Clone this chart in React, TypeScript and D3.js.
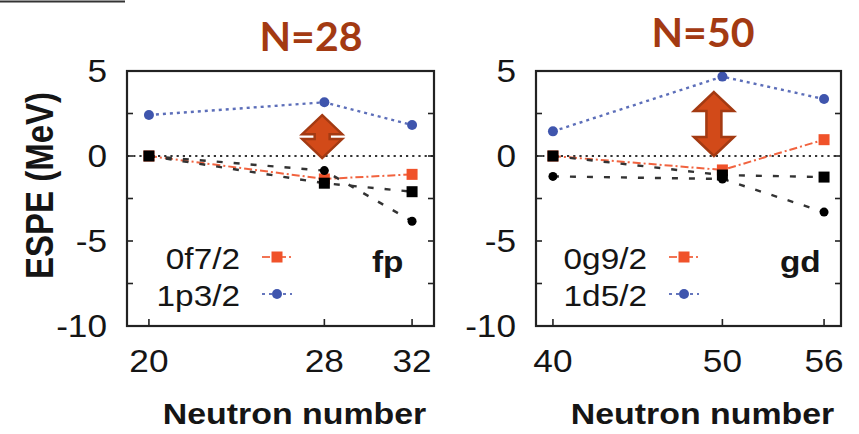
import React from "react";
import * as d3 from "d3";

// Effective single-particle energies (MeV) vs neutron number
const fpNeutrons = [20, 28, 32];
const fpF72 = [0, -1.35, -1.08];
const fpP32 = [2.41, 3.16, 1.82];
const fpBlackSquares = [0, -1.6, -2.1];
const fpBlackCircles = [0, -0.86, -3.84];

const gdNeutrons = [40, 50, 56];
const gdG92 = [0, -0.82, 0.96];
const gdD52 = [1.45, 4.67, 3.35];
const gdBlackSquares = [0, -1.12, -1.24];
const gdBlackCircles = [-1.2, -1.35, -3.3];

const yTicksMajor = [5, 0, -5, -10];
const yTicksMinor = [5, 2.5, 0, -2.5, -5, -7.5, -10];

const fpLegend = ["0f7/2", "1p3/2"];
const gdLegend = ["0g9/2", "1d5/2"];

const ORANGE = "#f0522a";
const BLUE = "#3f55ad";
const ARROW_FILL = "#d24a19";
const ARROW_EDGE = "#a33a12";
const TITLE = "#a33a12";
const INK = "#151515";
const SX = 1.13;

type PanelSpec = {
  ns: number[];
  domain: [number, number];
  range: [number, number];
  orange: number[];
  blue: number[];
  squares: number[];
  circles: number[];
  legend: string[];
  tag: string;
  title: string;
  titleX: number;
  titleY: number;
  arrow: { n: number; top: number; bottom: number; head: number };
  legendRight: number;
  tagX: number;
};

const panels: PanelSpec[] = [
  {
    ns: fpNeutrons,
    domain: [19, 33],
    range: [127, 434],
    orange: fpF72,
    blue: fpP32,
    squares: fpBlackSquares,
    circles: fpBlackCircles,
    legend: fpLegend,
    tag: "fp",
    title: "N=28",
    titleX: 311,
    titleY: 51,
    arrow: { n: 27.9, top: 2.4, bottom: -0.12, head: 19 },
    legendRight: 240,
    tagX: 372,
  },
  {
    ns: gdNeutrons,
    domain: [39, 57],
    range: [536, 841],
    orange: gdG92,
    blue: gdD52,
    squares: gdBlackSquares,
    circles: gdBlackCircles,
    legend: gdLegend,
    tag: "gd",
    title: "N=50",
    titleX: 703,
    titleY: 47,
    arrow: { n: 49.5, top: 3.76, bottom: 0, head: 19 },
    legendRight: 647,
    tagX: 780,
  },
];

const y = d3.scaleLinear().domain([-10, 5]).range([326, 71]);

function Txt(props: {
  x: number;
  y: number;
  size: number;
  anchor?: "start" | "middle" | "end";
  bold?: boolean;
  sx?: number;
  children: React.ReactNode;
}) {
  const { x, y: ty, size, anchor = "start", bold = false, sx = SX } = props;
  return (
    <text
      transform={`translate(${x},${ty}) scale(${sx},1)`}
      fontFamily="'Liberation Sans', Arial, sans-serif"
      fontSize={size}
      fontWeight={bold ? "bold" : "normal"}
      textAnchor={anchor}
      fill={INK}
    >
      {props.children}
    </text>
  );
}

function Square({ cx, cy, s, fill }: { cx: number; cy: number; s: number; fill: string }) {
  return <rect x={cx - s / 2} y={cy - s / 2} width={s} height={s} fill={fill} />;
}

function Panel({ p }: { p: PanelSpec }) {
  const x = d3.scaleLinear().domain(p.domain).range(p.range);
  const [x0, x1] = p.range;
  const [yb, yt] = y.range();
  const line = d3
    .line<number>()
    .x((_, i) => x(p.ns[i]))
    .y((v) => y(v));

  const ax = x(p.arrow.n);
  const aT = y(p.arrow.top);
  const aB = y(p.arrow.bottom);
  const hw = 20;
  const sw = 7.5;
  const hh = p.arrow.head;
  const arrowPath = [
    [ax, aT],
    [ax + hw, aT + hh],
    [ax + sw, aT + hh],
    [ax + sw, aB - hh],
    [ax + hw, aB - hh],
    [ax, aB],
    [ax - hw, aB - hh],
    [ax - sw, aB - hh],
    [ax - sw, aT + hh],
    [ax - hw, aT + hh],
  ];

  const legendSampleX0 = p.legendRight + 22;
  const legendSampleX1 = p.legendRight + 52;
  const legendMid = (legendSampleX0 + legendSampleX1) / 2;
  const legendRows = [257, 294];

  return (
    <g>
      {/* zero reference */}
      <line x1={x0} x2={x1} y1={y(0)} y2={y(0)} stroke="#333" strokeWidth={2.2} strokeDasharray="2.2,4" />

      {/* orange orbital */}
      <path d={line(p.orange) || ""} fill="none" stroke={ORANGE} strokeWidth={2} strokeDasharray="8,3,2,3" opacity={0.9} />
      {p.orange.map((v, i) => (
        <Square key={"o" + i} cx={x(p.ns[i])} cy={y(v)} s={11} fill={ORANGE} />
      ))}

      {/* black reference curves */}
      <path d={line(p.squares) || ""} fill="none" stroke="#333" strokeWidth={2.4} strokeDasharray="6,11" />
      <path d={line(p.circles) || ""} fill="none" stroke="#333" strokeWidth={2.4} strokeDasharray="6,11" />
      {p.circles.map((v, i) => (
        <circle key={"c" + i} cx={x(p.ns[i])} cy={y(v)} r={4.5} fill="#000" />
      ))}
      {p.squares.map((v, i) => (
        <Square key={"s" + i} cx={x(p.ns[i])} cy={y(v)} s={11} fill="#000" />
      ))}

      {/* blue orbital */}
      <path d={line(p.blue) || ""} fill="none" stroke={BLUE} strokeWidth={2.4} strokeDasharray="3,4" opacity={0.85} />
      {p.blue.map((v, i) => (
        <circle key={"b" + i} cx={x(p.ns[i])} cy={y(v)} r={5} fill={BLUE} />
      ))}

      {/* gap arrow */}
      <path
        d={"M" + arrowPath.map((q) => q.join(",")).join("L") + "Z"}
        fill={ARROW_FILL}
        stroke={ARROW_EDGE}
        strokeWidth={2.5}
        strokeLinejoin="miter"
      />

      {/* frame and ticks */}
      <rect x={x0} y={yt} width={x1 - x0} height={yb - yt} fill="none" stroke="#222" strokeWidth={2.2} />
      {yTicksMinor.map((t) => (
        <g key={"yt" + t}>
          <line x1={x0} x2={x0 + 6} y1={y(t)} y2={y(t)} stroke="#222" strokeWidth={1.6} />
          <line x1={x1 - 6} x2={x1} y1={y(t)} y2={y(t)} stroke="#222" strokeWidth={1.6} />
        </g>
      ))}
      {p.ns.map((n) => (
        <line key={"xt" + n} x1={x(n)} x2={x(n)} y1={yb} y2={yb - 7} stroke="#222" strokeWidth={1.6} />
      ))}

      {/* tick labels */}
      {yTicksMajor.map((t) => (
        <Txt key={"yl" + t} x={x0 - 20} y={y(t) + 11} size={32} anchor="end" sx={1.1}>
          {t}
        </Txt>
      ))}
      {p.ns.map((n) => (
        <Txt key={"xl" + n} x={x(n)} y={372} size={32} anchor="middle" sx={1.1}>
          {n}
        </Txt>
      ))}
      <Txt x={(x0 + x1) / 2 + 14} y={424} size={30} anchor="middle" bold>
        Neutron number
      </Txt>

      {/* legend */}
      {p.legend.map((label, i) => (
        <g key={"lg" + i}>
          <Txt x={p.legendRight} y={legendRows[i] + 12} size={29} anchor="end" sx={1.15}>
            {label}
          </Txt>
          <line
            x1={legendSampleX0}
            x2={legendSampleX1}
            y1={legendRows[i]}
            y2={legendRows[i]}
            stroke={i === 0 ? ORANGE : BLUE}
            strokeWidth={2}
            strokeDasharray={i === 0 ? "8,3,2,3" : "3,4"}
            opacity={0.8}
          />
          {i === 0 ? (
            <Square cx={legendMid} cy={legendRows[i]} s={11} fill={ORANGE} />
          ) : (
            <circle cx={legendMid} cy={legendRows[i]} r={5} fill={BLUE} />
          )}
        </g>
      ))}
      <Txt x={p.tagX} y={272} size={29} bold sx={1.15}>
        {p.tag}
      </Txt>

      {/* shell-closure heading */}
      <text
        x={p.titleX}
        y={p.titleY}
        fontFamily="Lato, 'Open Sans', sans-serif"
        fontWeight="bold"
        fontSize={41}
        textAnchor="middle"
        fill={TITLE}
      >
        {p.title}
      </text>
    </g>
  );
}

export default function App() {
  return (
    <svg
      width={859}
      height={434}
      viewBox="0 0 859 434"
      style={{ position: "absolute", left: 0, top: 0, background: "#fff" }}
    >
      <rect width={859} height={434} fill="#fff" />
      <line x1={0} x2={125} y1={1.5} y2={1.5} stroke="#333" strokeWidth={2} />
      <g transform="translate(53,185.5) scale(1.15,1) rotate(-90)">
        <text
          fontFamily="'Liberation Sans', Arial, sans-serif"
          fontSize={33}
          fontWeight="bold"
          textAnchor="middle"
          fill={INK}
        >
          ESPE (MeV)
        </text>
      </g>
      {panels.map((p) => (
        <Panel key={p.title} p={p} />
      ))}
    </svg>
  );
}
